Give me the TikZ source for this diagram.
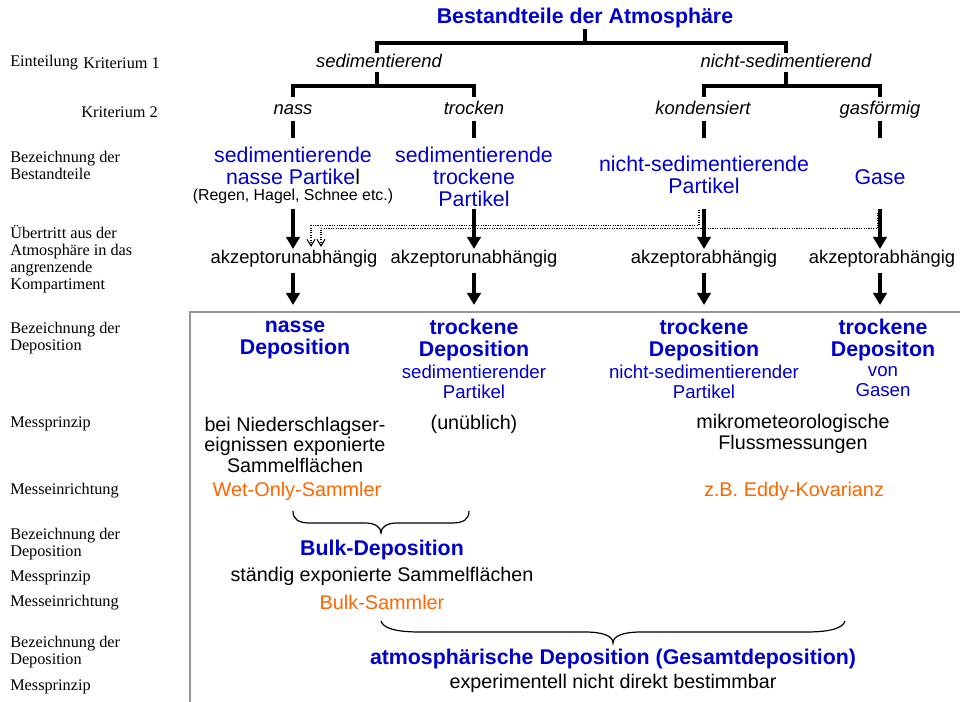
\documentclass[tikz,border=0pt]{standalone}
\usepackage{fontspec}
\setmainfont{Liberation Serif}
\newfontfamily\arial{Liberation Sans}
\usetikzlibrary{arrows.meta}
\definecolor{dblue}{RGB}{0,0,204}
\definecolor{dorange}{RGB}{255,102,0}
\definecolor{framegray}{RGB}{150,150,150}
\begin{document}
\begin{tikzpicture}[x=0.75pt,y=-0.75pt,
 lab/.style={font=\fontsize{12.2}{12.8}\selectfont, align=left, anchor=west, inner sep=0},
 labr/.style={font=\fontsize{12.2}{12.8}\selectfont, anchor=east, inner sep=0},
 ttl/.style={font=\arial\bfseries\fontsize{16}{18}\selectfont, text=dblue, inner sep=0},
 crit/.style={font=\arial\itshape\fontsize{13.8}{16}\selectfont, inner sep=0, text height=10pt, text depth=3pt},
 nm/.style={font=\arial\fontsize{16}{16.5}\selectfont, text=dblue, align=center, inner sep=0},
 small/.style={font=\arial\fontsize{11.9}{14}\selectfont, inner sep=0},
 txt/.style={font=\arial\fontsize{13.8}{15.4}\selectfont, align=center, inner sep=0},
 txtb/.style={font=\arial\fontsize{14.8}{15.4}\selectfont, align=center, inner sep=0},
 dep/.style={font=\arial\bfseries\fontsize{16}{16.5}\selectfont, text=dblue, align=center, inner sep=0},
 sub/.style={font=\arial\fontsize{14}{15}\selectfont, text=dblue, align=center, inner sep=0},
 org/.style={font=\arial\fontsize{14.9}{16}\selectfont, text=dorange, inner sep=0},
 tree/.style={line width=2.3pt},
 arr/.style={line width=2.3pt, -{Triangle[length=9pt,width=10pt]}},
 dotarr/.style={line width=0.8pt, densely dotted, -{Straight Barb[length=5pt,width=6pt]}},
 bracel/.style={line width=0.9pt}
]
\useasboundingbox (0,0) rectangle (960,702);

% left labels
\node[lab] (l1) at (10,63) {Einteilung};
\node[labr] (l1b) at (160,63) {Kriterium 1};
\node[labr] (l2) at (158,112) {Kriterium 2};
\node[lab] (l3) at (10,165.5) {Bezeichnung der\\Bestandteile};
\node[lab] (l4) at (10,259) {Übertritt aus der\\Atmosphäre in das\\angrenzende\\Kompartiment};
\node[lab] (l5) at (10,338.5) {Bezeichnung der\\Deposition};
\node[lab] (l6) at (10,424) {Messprinzip};
\node[lab] (l7) at (10,491) {Messeinrichtung};
\node[lab] (l8) at (10,544.5) {Bezeichnung der\\Deposition};
\node[lab] (l9) at (10,578) {Messprinzip};
\node[lab] (l10) at (10,603) {Messeinrichtung};
\node[lab] (l11) at (10,652.5) {Bezeichnung der\\Deposition};
\node[lab] (l12) at (10,687) {Messprinzip};

% frame
\draw[framegray, line width=0.9pt] (960,312) -- (190,312) -- (190,702);

% tree
\node[ttl] (title) at (585,18) {Bestandteile der Atmosphäre};
\node[crit] (sed) at (379,63) {sedimentierend};
\node[crit] (nsed) at (786,63) {nicht-sedimentierend};
\node[crit] (nass) at (293,110) {nass};
\node[crit] (trock) at (474,110) {trocken};
\node[crit] (kond) at (703,110) {kondensiert};
\node[crit] (gas) at (880,110) {gasförmig};

\coordinate (j0) at (585,43);
\draw[tree] (title.south) ++(0,1) -- (j0);
\draw[tree] (j0) -| ([yshift=1pt]sed.north -| 377,0);
\draw[tree] (j0) -| ([yshift=1pt]nsed.north);
\coordinate (j1) at (377,86);
\coordinate (j2) at (786,86);
\draw[tree] (sed.south -| j1) -- (j1);
\draw[tree] (nsed.south) -- (j2);
\draw[tree] (j1) -| ([yshift=3pt]nass.north);
\draw[tree] (j1) -| ([yshift=3pt]trock.north);
\draw[tree] (j2) -| ([yshift=3pt]kond.north -| 704,0);
\draw[tree] (j2) -| ([yshift=3pt]gas.north);

% names
\node[nm] (n1) at (293,166) {sedimentierende\\nasse Partike{\color{black}l}};
\node[small] (n1b) at (293,196) {(Regen, Hagel, Schnee etc.)};
\node[nm] (n2) at (474,177) {sedimentierende\\trockene\\Partikel};
\node[nm] (n3) at (704,174.5) {nicht-sedimentierende\\Partikel};
\node[nm] (n4) at (880,177) {Gase};

\draw[tree] (nass.south) ++(0,2) -- (293,138);
\draw[tree] (trock.south) ++(0,2) -- (474,138);
\draw[tree] (kond.south -| 704,0) ++(0,2) -- (704,138);
\draw[tree] (gas.south) ++(0,2) -- (880,138);

% akzeptor row
\node[txt] (a1) at (294,259) {akzeptorunabhängig};
\node[txt] (a2) at (474,259) {akzeptorunabhängig};
\node[txt] (a3) at (704,259) {akzeptorabhängig};
\node[txt] (a4) at (882,259) {akzeptorabhängig};

\coordinate (s1) at (293,209);
\coordinate (s2) at (474,209);
\coordinate (s3) at (704,209);
\coordinate (s4) at (880,209);
\draw[arr] (s1) -- (293,249);
\draw[arr] (s2) -- (474,249);
\draw[arr] (s3) -- (704,249);
\draw[arr] (s4) -- (880,249);

% dotted transfer arrows
\coordinate (k1) at (699,210);
\coordinate (k2) at (878,213);
\draw[dotarr] (k1) -- (699,225.5) -- (311,225.5) -- (311,247);
\draw[dotarr] (k2) -- (878,228.5) -- (321,228.5) -- (321,247);

% deposition row
\node[dep] (d1) at (295,340) {nasse\\Deposition};
\node[dep] (d2) at (474,340) {trockene\\Deposition};
\node[dep] (d3) at (704,340) {trockene\\Deposition};
\node[dep] (d4) at (883,340) {trockene\\Depositon};
\node[sub] (u2) at (474,382) {sedimentierender\\Partikel};
\node[sub] (u3) at (704,382) {nicht-sedimentierender\\Partikel};
\node[sub] (u4) at (883,382) {von\\Gasen};

\draw[arr] (a1.south -| 293,0) ++(0,5) -- (293,305);
\draw[arr] (a2.south) ++(0,5) -- (474,305);
\draw[arr] (a3.south) ++(0,5) -- (704,305);
\draw[arr] (a4.south -| 880,0) ++(0,5) -- (880,305);

% Messprinzip / Messeinrichtung
\node[txtb] (m1) at (295,444.5) {bei Niederschlagser-\\eignissen exponierte\\Sammelflächen};
\node[txtb] (m2) at (474,424) {(unüblich)};
\node[txtb] (m3) at (793,434) {mikrometeorologische\\Flussmessungen};
\node[org] (e1) at (297,491) {Wet-Only-Sammler};
\node[org] (e2) at (794,491) {z.B. Eddy-Kovarianz};

% small brace
\draw[bracel] (293,511) .. controls (293,519) and (298,523) .. (310,523) -- (365,523)
  .. controls (375,523) and (381,527) .. (381,533)
  .. controls (381,527) and (387,523) .. (397,523) -- (452,523)
  .. controls (464,523) and (469,519) .. (469,511);

\node[dep] (b1) at (382,550) {Bulk-Deposition};
\node[txtb] (b2) at (382,576) {ständig exponierte Sammelflächen};
\node[org] (b3) at (382,602) {Bulk-Sammler};

% big brace
\draw[bracel] (381,621) .. controls (383,628) and (395,632) .. (420,632) -- (585,632)
  .. controls (603,632) and (613,636) .. (613,643)
  .. controls (613,636) and (623,632) .. (641,632) -- (806,632)
  .. controls (831,632) and (843,628) .. (845,621);

\node[dep] (t1) at (613,659) {atmosphärische Deposition (Gesamtdeposition)};
\node[txtb] (t2) at (613,683) {experimentell nicht direkt bestimmbar};
\end{tikzpicture}
\end{document}
